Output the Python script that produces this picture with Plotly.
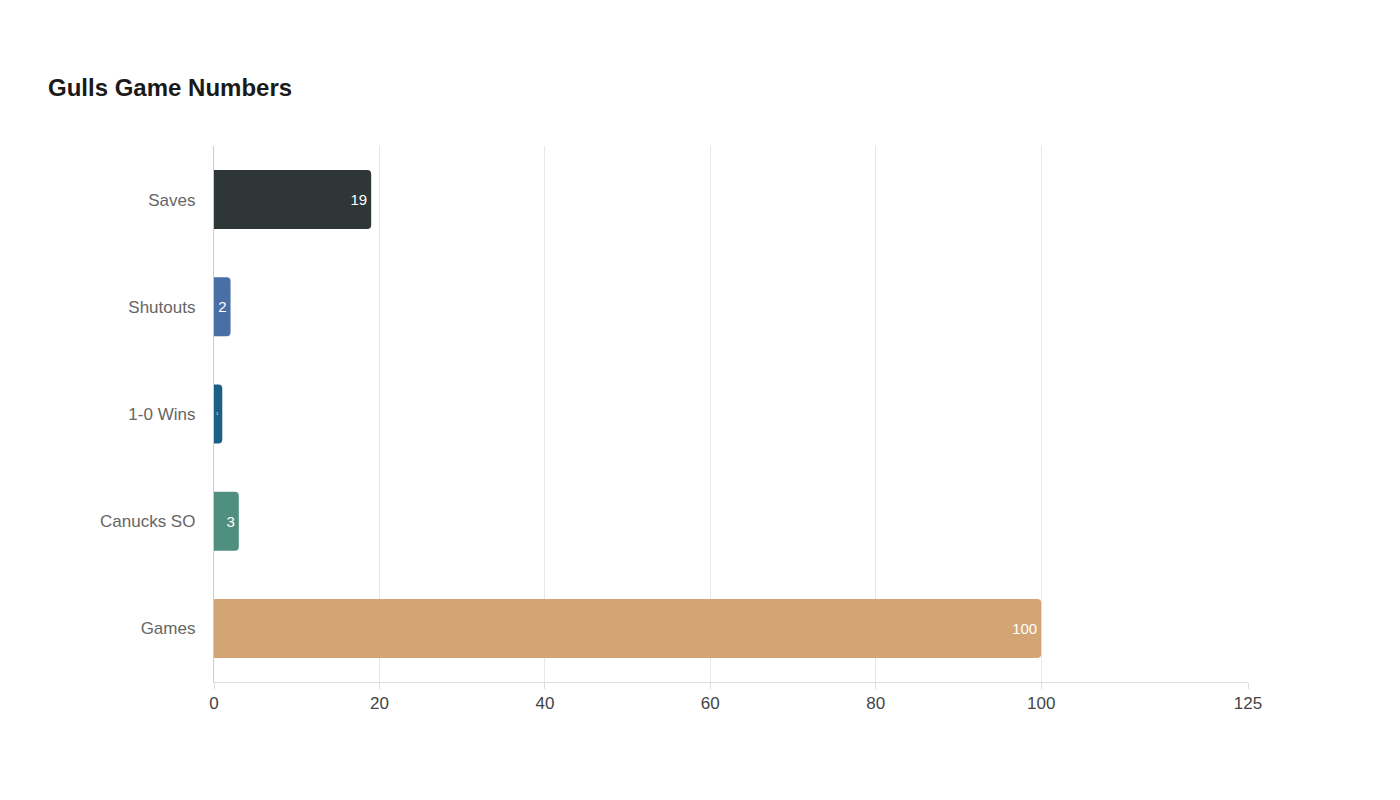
import plotly.graph_objects as go

categories = ["Games", "Canucks SO", "1-0 Wins", "Shutouts", "Saves"]
values = [100, 3, 1, 2, 19]
colors = ["#d4a574", "#4f8f7f", "#1a5f86", "#4a6fa5", "#2e3638"]
tick_vals = [0, 20, 40, 60, 80, 100, 125]

fig = go.Figure(go.Bar(
    y=categories, x=values, orientation="h",
    marker=dict(color=colors, line=dict(width=0)),
    text=[str(v) for v in values], textposition="inside", insidetextanchor="end",
    textfont=dict(color="white", size=15, family="Liberation Sans"),
    width=0.55, cliponaxis=True,
))
fig.update_layout(
    width=1400, height=800, plot_bgcolor="white", paper_bgcolor="white",
    barcornerradius=4,
    title=dict(text="<b>Gulls Game Numbers</b>", x=40/1400, xanchor="left", y=0.9, yanchor="middle",
               font=dict(size=24, color="#1a1a1a", family="Liberation Sans")),
    margin=dict(l=206, r=160, t=138, b=126),
    font=dict(family="Liberation Sans", color="#555"),
    showlegend=False,
)
fig.update_xaxes(range=[0, 125], tickvals=tick_vals, showgrid=True, gridcolor="#e8e8e8",
                 zeroline=False, showline=True, linecolor="#ddd", ticks="outside",
                 ticklen=6, tickcolor="#ddd", tickfont=dict(size=17, color="#444"))
fig.update_yaxes(showline=True, linecolor="#ccc", ticklen=0, ticks="",
                 tickfont=dict(size=17, color="#666"), ticksuffix="   ")
fig.write_html("out.html")
